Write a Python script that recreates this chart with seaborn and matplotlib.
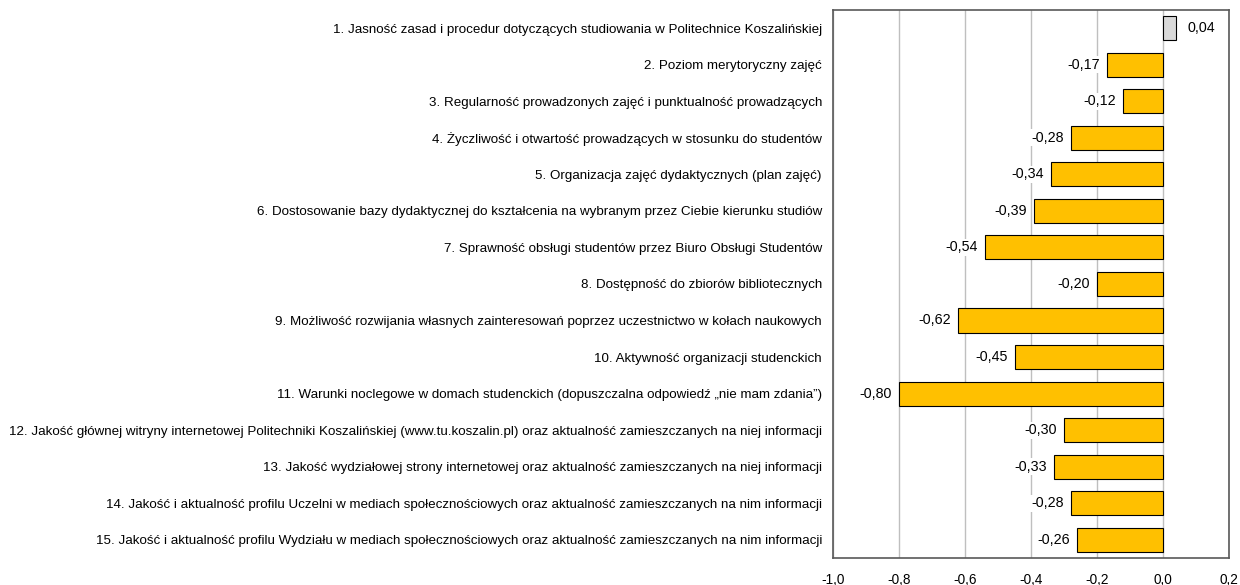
import matplotlib
matplotlib.use("Agg")
import matplotlib.pyplot as plt
import seaborn as sns
import pandas as pd

# Dane
pytania = [
    "1. Jasność zasad i procedur dotyczących studiowania w Politechnice Koszalińskiej",
    "2. Poziom merytoryczny zajęć",
    "3. Regularność prowadzonych zajęć i punktualność prowadzących",
    "4. Życzliwość i otwartość prowadzących w stosunku do studentów",
    "5. Organizacja zajęć dydaktycznych (plan zajęć)",
    "6. Dostosowanie bazy dydaktycznej do kształcenia na wybranym przez Ciebie kierunku studiów",
    "7. Sprawność obsługi studentów przez Biuro Obsługi Studentów",
    "8. Dostępność do zbiorów bibliotecznych",
    "9. Możliwość rozwijania własnych zainteresowań poprzez uczestnictwo w kołach naukowych",
    "10. Aktywność organizacji studenckich",
    "11. Warunki noclegowe w domach studenckich (dopuszczalna odpowiedź „nie mam zdania”)",
    "12. Jakość głównej witryny internetowej Politechniki Koszalińskiej (www.tu.koszalin.pl) oraz aktualność zamieszczanych na niej informacji",
    "13. Jakość wydziałowej strony internetowej oraz aktualność zamieszczanych na niej informacji",
    "14. Jakość i aktualność profilu Uczelni w mediach społecznościowych oraz aktualność zamieszczanych na nim informacji",
    "15. Jakość i aktualność profilu Wydziału w mediach społecznościowych oraz aktualność zamieszczanych na nim informacji",
]
wartosci = [0.04, -0.17, -0.12, -0.28, -0.34, -0.39, -0.54, -0.20, -0.62, -0.45,
            -0.80, -0.30, -0.33, -0.28, -0.26]
x_ticks = [-1.0, -0.8, -0.6, -0.4, -0.2, 0.0, 0.2]

sns.set_style("white")
plt.rcParams['font.family'] = ['Liberation Sans', 'DejaVu Sans']
plt.rcParams['text.color'] = 'black'
plt.rcParams['xtick.color'] = 'black'
plt.rcParams['ytick.color'] = 'black'

df = pd.DataFrame({"pytanie": pytania, "wartosc": wartosci})
df["znak"] = ["dodatnia" if v > 0 else "ujemna" for v in wartosci]

fig = plt.figure(figsize=(12.4, 5.85), dpi=100)
ax = fig.add_axes([0.6718, 0.0462, 0.3193, 0.9368])

sns.barplot(data=df, y="pytanie", x="wartosc", hue="znak",
            palette={"dodatnia": "#D9D9D9", "ujemna": "#FFC000"},
            dodge=False, width=0.66, edgecolor="black", linewidth=0.8,
            saturation=1, legend=False, ax=ax)

ax.set_xlim(-1.0, 0.2)
ax.set_xticks(x_ticks)
ax.set_xticklabels([f"{t:.1f}".replace(".", ",") for t in x_ticks], fontsize=9.8)
ax.tick_params(axis='x', length=0, pad=11)
ax.tick_params(axis='y', length=0, pad=8)
ax.set_yticks(range(len(pytania)))
ax.set_yticklabels(pytania, fontsize=9.6)
ax.set_xlabel("")
ax.set_ylabel("")
ax.grid(axis='x', color='#BFBFBF', linewidth=1)
ax.set_axisbelow(True)
for s in ax.spines.values():
    s.set_color('#595959')
    s.set_linewidth(1.2)

# Etykiety wartości
for i, v in enumerate(wartosci):
    txt = f"{v:.2f}".replace(".", ",")
    if v >= 0:
        ax.annotate(txt, (v, i), xytext=(8, 0), textcoords='offset points',
                    ha='left', va='center', fontsize=10.3,
                    bbox=dict(facecolor='white', edgecolor='none', pad=1))
    else:
        ax.annotate(txt, (v, i), xytext=(-5, 0), textcoords='offset points',
                    ha='right', va='center', fontsize=10.3,
                    bbox=dict(facecolor='white', edgecolor='none', pad=1))

fig.savefig("out.png", dpi=100)
